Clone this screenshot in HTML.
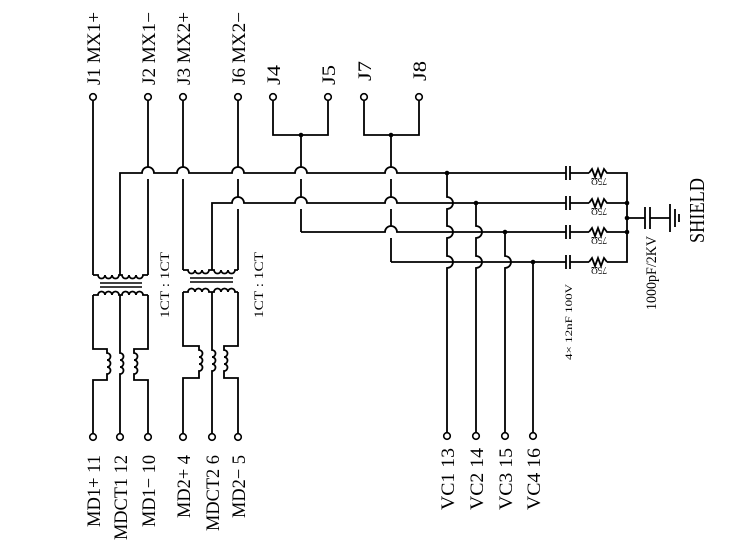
<!DOCTYPE html>
<html><head><style>body{margin:0;background:#fff}svg{display:block}</style></head><body>
<svg width="737" height="553" viewBox="0 0 737 553" xmlns="http://www.w3.org/2000/svg" font-family="Liberation Serif, serif" fill="none" stroke="#000" stroke-width="1.8">
<g>
<path d="M93 101V275M148 101V167M148 179V275M183 101V167M183 179V270M238 101V167M238 179V197M238 209V270"/>
<path d="M273 101V135H328V101M301 135V167M301 179V197M301 209V232"/>
<path d="M364 101V135H419V101M391 135V167M391 179V197M391 209V226M391 238V262"/>
</g>
<path d="M120 275V173H142A6 6 0 0 1 154 173H177A6 6 0 0 1 189 173H232A6 6 0 0 1 244 173H295A6 6 0 0 1 307 173H385A6 6 0 0 1 397 173H566M570 173H589"/>
<path d="M212 270V203H232A6 6 0 0 1 244 203H295A6 6 0 0 1 307 203H385A6 6 0 0 1 397 203H566M570 203H589"/>
<path d="M301 232H385A6 6 0 0 1 397 232H566M570 232H589"/>
<path d="M391 262H566M570 262H589"/>
<path d="M447 173V197A6 6 0 0 1 447 209V226A6 6 0 0 1 447 238V256A6 6 0 0 1 447 268V433"/>
<path d="M476 203V226A6 6 0 0 1 476 238V256A6 6 0 0 1 476 268V433"/>
<path d="M505 232V256A6 6 0 0 1 505 268V433"/>
<path d="M533 262V433"/>
<g>
<path d="M566 166V180M570 166V180M566 196V210M570 196V210M566 225V239M570 225V239M566 255V269M570 255V269"/>
<path d="M589 173l3-4 3 8 3-8 3 8 3-8 3 4H627V262H607M589 203l3-4 3 8 3-8 3 8 3-8 3 4H627M589 232l3-4 3 8 3-8 3 8 3-8 3 4H627M589 262l3-4 3 8 3-8 3 8 3-8 3 4"/>
<path d="M627 218H645M645 207V229M650 207V229M650 218H670M670 204V232M675 209V227M679 214V222"/>
</g>
<g fill="#000" stroke="none">
<circle cx="301" cy="135" r="2.3"/><circle cx="391" cy="135" r="2.3"/>
<circle cx="447" cy="173" r="2.3"/><circle cx="476" cy="203" r="2.3"/><circle cx="505" cy="232" r="2.3"/><circle cx="533" cy="262" r="2.3"/>
<circle cx="627" cy="203" r="2.3"/><circle cx="627" cy="218" r="2.3"/><circle cx="627" cy="232" r="2.3"/>
</g>
<path d="M93 275H98a3.5 3.5 0 0 0 7 0a3.5 3.5 0 0 0 7 0a3.5 3.5 0 0 0 7 0H120H122a3.5 3.5 0 0 0 7 0a3.5 3.5 0 0 0 7 0a3.5 3.5 0 0 0 7 0H148"/>
<path d="M100 283H142M100 287H142" stroke-width="1.5"/>
<path d="M93 295H98a3.5 3.5 0 0 1 7 0a3.5 3.5 0 0 1 7 0a3.5 3.5 0 0 1 7 0H120H122a3.5 3.5 0 0 1 7 0a3.5 3.5 0 0 1 7 0a3.5 3.5 0 0 1 7 0H148"/>
<path d="M93 295V349H107V353a3.5 3.5 0 0 1 0 7a3.5 3.5 0 0 1 0 7a3.5 3.5 0 0 1 0 7V380H93V433"/>
<path d="M120 295V353a3.5 3.5 0 0 1 0 7a3.5 3.5 0 0 1 0 7a3.5 3.5 0 0 1 0 7V433"/>
<path d="M148 295V349H134V353a3.5 3.5 0 0 1 0 7a3.5 3.5 0 0 1 0 7a3.5 3.5 0 0 1 0 7V380H148V433"/>
<path d="M183 270H188a3.5 3.5 0 0 0 7 0a3.5 3.5 0 0 0 7 0a3.5 3.5 0 0 0 7 0H212H214a3.5 3.5 0 0 0 7 0a3.5 3.5 0 0 0 7 0a3.5 3.5 0 0 0 7 0H238"/>
<path d="M190 278H233M190 282H233" stroke-width="1.5"/>
<path d="M183 292H188a3.5 3.5 0 0 1 7 0a3.5 3.5 0 0 1 7 0a3.5 3.5 0 0 1 7 0H212H214a3.5 3.5 0 0 1 7 0a3.5 3.5 0 0 1 7 0a3.5 3.5 0 0 1 7 0H238"/>
<path d="M183 292V346H199V350a3.5 3.5 0 0 1 0 7a3.5 3.5 0 0 1 0 7a3.5 3.5 0 0 1 0 7V378H183V433"/>
<path d="M212 292V350a3.5 3.5 0 0 1 0 7a3.5 3.5 0 0 1 0 7a3.5 3.5 0 0 1 0 7V433"/>
<path d="M238 292V346H224V350a3.5 3.5 0 0 1 0 7a3.5 3.5 0 0 1 0 7a3.5 3.5 0 0 1 0 7V378H238V433"/>
<g fill="#fff" stroke-width="1.6">
<circle cx="93" cy="97" r="3.3"/><circle cx="148" cy="97" r="3.3"/><circle cx="183" cy="97" r="3.3"/><circle cx="238" cy="97" r="3.3"/>
<circle cx="273" cy="97" r="3.3"/><circle cx="328" cy="97" r="3.3"/><circle cx="364" cy="97" r="3.3"/><circle cx="419" cy="97" r="3.3"/>
<circle cx="93" cy="437" r="3.3"/><circle cx="120" cy="437" r="3.3"/><circle cx="148" cy="437" r="3.3"/>
<circle cx="183" cy="437" r="3.3"/><circle cx="212" cy="437" r="3.3"/><circle cx="238" cy="437" r="3.3"/>
<circle cx="447" cy="436" r="3.3"/><circle cx="476" cy="436" r="3.3"/><circle cx="505" cy="436" r="3.3"/><circle cx="533" cy="436" r="3.3"/>
</g>
<g fill="#000" stroke="none" font-size="19">
<text transform="translate(100,85) rotate(-90)" textLength="73" lengthAdjust="spacingAndGlyphs">J1 MX1+</text>
<text transform="translate(155,85) rotate(-90)" textLength="73" lengthAdjust="spacingAndGlyphs">J2 MX1−</text>
<text transform="translate(190,85) rotate(-90)" textLength="73" lengthAdjust="spacingAndGlyphs">J3 MX2+</text>
<text transform="translate(245,85) rotate(-90)" textLength="73" lengthAdjust="spacingAndGlyphs">J6 MX2−</text>
<text transform="translate(280,85) rotate(-90)" textLength="20" lengthAdjust="spacingAndGlyphs">J4</text>
<text transform="translate(335,85) rotate(-90)" textLength="20" lengthAdjust="spacingAndGlyphs">J5</text>
<text transform="translate(371,81) rotate(-90)" textLength="20" lengthAdjust="spacingAndGlyphs">J7</text>
<text transform="translate(426,81) rotate(-90)" textLength="20" lengthAdjust="spacingAndGlyphs">J8</text>
<text transform="translate(100,527) rotate(-90)" textLength="72" lengthAdjust="spacingAndGlyphs">MD1+ 11</text>
<text transform="translate(127,540) rotate(-90)" textLength="85" lengthAdjust="spacingAndGlyphs">MDCT1 12</text>
<text transform="translate(155,527) rotate(-90)" textLength="72" lengthAdjust="spacingAndGlyphs">MD1− 10</text>
<text transform="translate(190,518) rotate(-90)" textLength="63" lengthAdjust="spacingAndGlyphs">MD2+ 4</text>
<text transform="translate(219,531) rotate(-90)" textLength="76" lengthAdjust="spacingAndGlyphs">MDCT2 6</text>
<text transform="translate(245,518) rotate(-90)" textLength="63" lengthAdjust="spacingAndGlyphs">MD2− 5</text>
<text transform="translate(454,510) rotate(-90)" textLength="62" lengthAdjust="spacingAndGlyphs">VC1 13</text>
<text transform="translate(483,510) rotate(-90)" textLength="62" lengthAdjust="spacingAndGlyphs">VC2 14</text>
<text transform="translate(512,510) rotate(-90)" textLength="62" lengthAdjust="spacingAndGlyphs">VC3 15</text>
<text transform="translate(540,510) rotate(-90)" textLength="62" lengthAdjust="spacingAndGlyphs">VC4 16</text>
</g>
<g fill="#000" stroke="none" font-size="13">
<text transform="translate(169,318) rotate(-90)" textLength="66" lengthAdjust="spacingAndGlyphs">1CT : 1CT</text>
<text transform="translate(263,318) rotate(-90)" textLength="66" lengthAdjust="spacingAndGlyphs">1CT : 1CT</text>
<text transform="translate(656,310) rotate(-90)" font-size="15" textLength="74" lengthAdjust="spacingAndGlyphs">1000pF/2KV</text>
<text transform="translate(704,243) rotate(-90)" font-size="21" textLength="65" lengthAdjust="spacingAndGlyphs">SHIELD</text>
<text transform="translate(572,360) rotate(-90)" font-size="9" textLength="76" lengthAdjust="spacingAndGlyphs">4× 12nF 100V</text>
</g>
<g fill="#000" stroke="none" font-size="10">
<text transform="translate(607,178) rotate(180)" textLength="16" lengthAdjust="spacingAndGlyphs">75Ω</text>
<text transform="translate(607,208) rotate(180)" textLength="16" lengthAdjust="spacingAndGlyphs">75Ω</text>
<text transform="translate(607,237) rotate(180)" textLength="16" lengthAdjust="spacingAndGlyphs">75Ω</text>
<text transform="translate(607,267) rotate(180)" textLength="16" lengthAdjust="spacingAndGlyphs">75Ω</text>
</g>
</svg>
</body></html>
